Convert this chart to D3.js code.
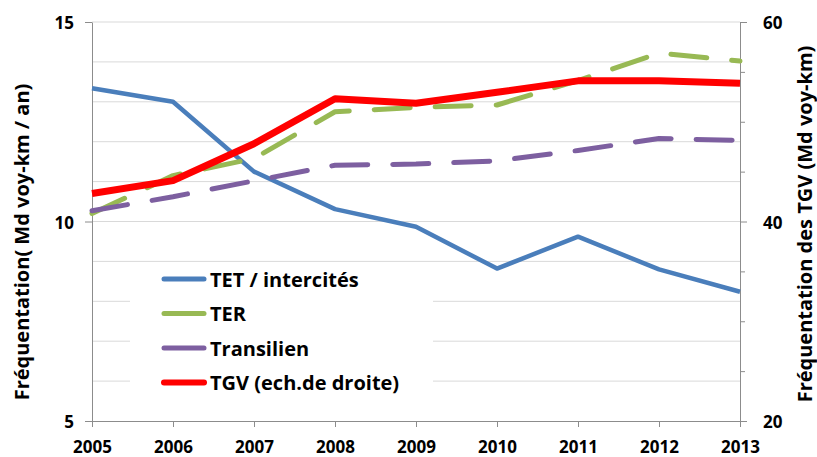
<!DOCTYPE html>
<html>
<head>
<meta charset="utf-8">
<script src="https://cdn.jsdelivr.net/npm/d3@7"></script>
<style>
  body { margin: 0; background: #fff; }
  svg text { font-family: "Open Sans", "Noto Sans", sans-serif; font-weight: bold; fill: #000; }
</style>
</head>
<body>
<div id="chart"></div>
<script>
// DATA
const years = [2005, 2006, 2007, 2008, 2009, 2010, 2011, 2012, 2013];
const tet = [13.34, 13.0, 11.25, 10.31, 9.87, 8.82, 9.62, 8.8, 8.24];
const ter = [10.2, 11.15, 11.58, 12.75, 12.86, 12.92, 13.53, 14.22, 14.02];
const transilien = [10.27, 10.62, 11.02, 11.41, 11.44, 11.52, 11.78, 12.08, 12.03];
const tgv = [42.8, 44.1, 47.8, 52.3, 51.85, 52.95, 54.1, 54.1, 53.85]; // right axis
const leftTicks = [5, 10, 15];
const rightTicks = [20, 40, 60];
const seriesNames = ['TET / intercités', 'TER', 'Transilien', 'TGV (ech.de droite)'];

// DIMENSIONS
const width = 817;
const height = 457;
const plotL = 92, plotR = 740, plotT = 22, plotB = 421;

const svg = d3.select('#chart').append('svg')
  .attr('width', width)
  .attr('height', height);

// SCALES
const x = d3.scaleLinear().domain([2005, 2013]).range([plotL, plotR]);
const yL = d3.scaleLinear().domain([5, 15]).range([plotB, plotT]);
const yR = d3.scaleLinear().domain([20, 60]).range([plotB, plotT]);

// GRIDLINES (every 1 on left scale)
svg.append('g').selectAll('line')
  .data(d3.range(6, 16))
  .enter().append('line')
  .attr('x1', plotL).attr('x2', plotR)
  .attr('y1', d => yL(d)).attr('y2', d => yL(d))
  .style('stroke', '#d9d9d9')
  .style('stroke-width', 1);

// AXES
const axisColor = '#8c8c8c';
const xAxis = svg.append('g').attr('transform', `translate(0, ${plotB})`)
  .call(d3.axisBottom(x).tickValues(years).tickFormat(d3.format('d')).tickSizeInner(6).tickSizeOuter(0));
const yAxisL = svg.append('g').attr('transform', `translate(${plotL}, 0)`)
  .call(d3.axisLeft(yL).tickValues(leftTicks).tickSizeInner(7).tickSizeOuter(0).tickPadding(11));
const yAxisR = svg.append('g').attr('transform', `translate(${plotR}, 0)`)
  .call(d3.axisRight(yR).tickValues(rightTicks).tickSizeInner(7).tickSizeOuter(0).tickPadding(16));
// minor ticks on right axis
svg.append('g').attr('transform', `translate(${plotR}, 0)`)
  .call(d3.axisRight(yR).tickValues(d3.range(25, 60, 5).filter(v => v % 20 !== 0)).tickSizeInner(5).tickSizeOuter(0).tickFormat(''));

svg.selectAll('.domain, .tick line').style('stroke', axisColor).style('stroke-width', 1);
svg.selectAll('.tick text').style('font-size', '17px').style('font-family', '"Open Sans", sans-serif');
xAxis.selectAll('.tick text').attr('dy', null).attr('y', 32);
yAxisL.selectAll('.tick text').attr('dy', '0.4em');
yAxisR.selectAll('.tick text').attr('dy', '0.4em');

// AXIS TITLES
svg.append('text')
  .attr('transform', `translate(29, 242) rotate(-90)`)
  .attr('text-anchor', 'middle')
  .style('font-size', '20px')
  .text('Fréquentation( Md voy-km / an)');
svg.append('text')
  .attr('transform', `translate(812, 224) rotate(-90)`)
  .attr('text-anchor', 'middle')
  .style('font-size', '20px')
  .text('Fréquentation des TGV (Md voy-km)');

// LEGEND BACKGROUND
svg.append('rect')
  .attr('x', 130).attr('y', 266)
  .attr('width', 303).attr('height', 136)
  .style('fill', '#fff');

// LINES
const styles = [
  { data: tet, y: yL, color: '#4a7ebb', w: 4.5, dash: null },
  { data: ter, y: yL, color: '#98b954', w: 5, dash: '36,25' },
  { data: transilien, y: yL, color: '#7d5fa0', w: 5, dash: '36,25' },
  { data: tgv, y: yR, color: '#ff0000', w: 7, dash: null }
];

styles.forEach(s => {
  const line = d3.line().x((d, i) => x(years[i])).y(d => s.y(d));
  svg.append('path')
    .datum(s.data)
    .attr('d', line)
    .style('fill', 'none')
    .style('stroke', s.color)
    .style('stroke-width', s.w)
    .style('stroke-linejoin', 'round')
    .style('stroke-linecap', s.dash ? 'round' : 'butt')
    .style('stroke-dasharray', s.dash);
});

// LEGEND
const legend = svg.append('g').selectAll('g')
  .data(seriesNames)
  .enter().append('g')
  .attr('transform', (d, i) => `translate(0, ${279 + i * 34.5})`);
legend.append('line')
  .attr('x1', 164).attr('x2', 204)
  .attr('y1', 0).attr('y2', 0)
  .style('stroke', (d, i) => styles[i].color)
  .style('stroke-width', (d, i) => i === 3 ? 6 : 5)
  .style('stroke-linecap', 'round');
legend.append('text')
  .attr('x', 210).attr('y', 7.5)
  .style('font-size', '20px')
  .text(d => d);
</script>
</body>
</html>
